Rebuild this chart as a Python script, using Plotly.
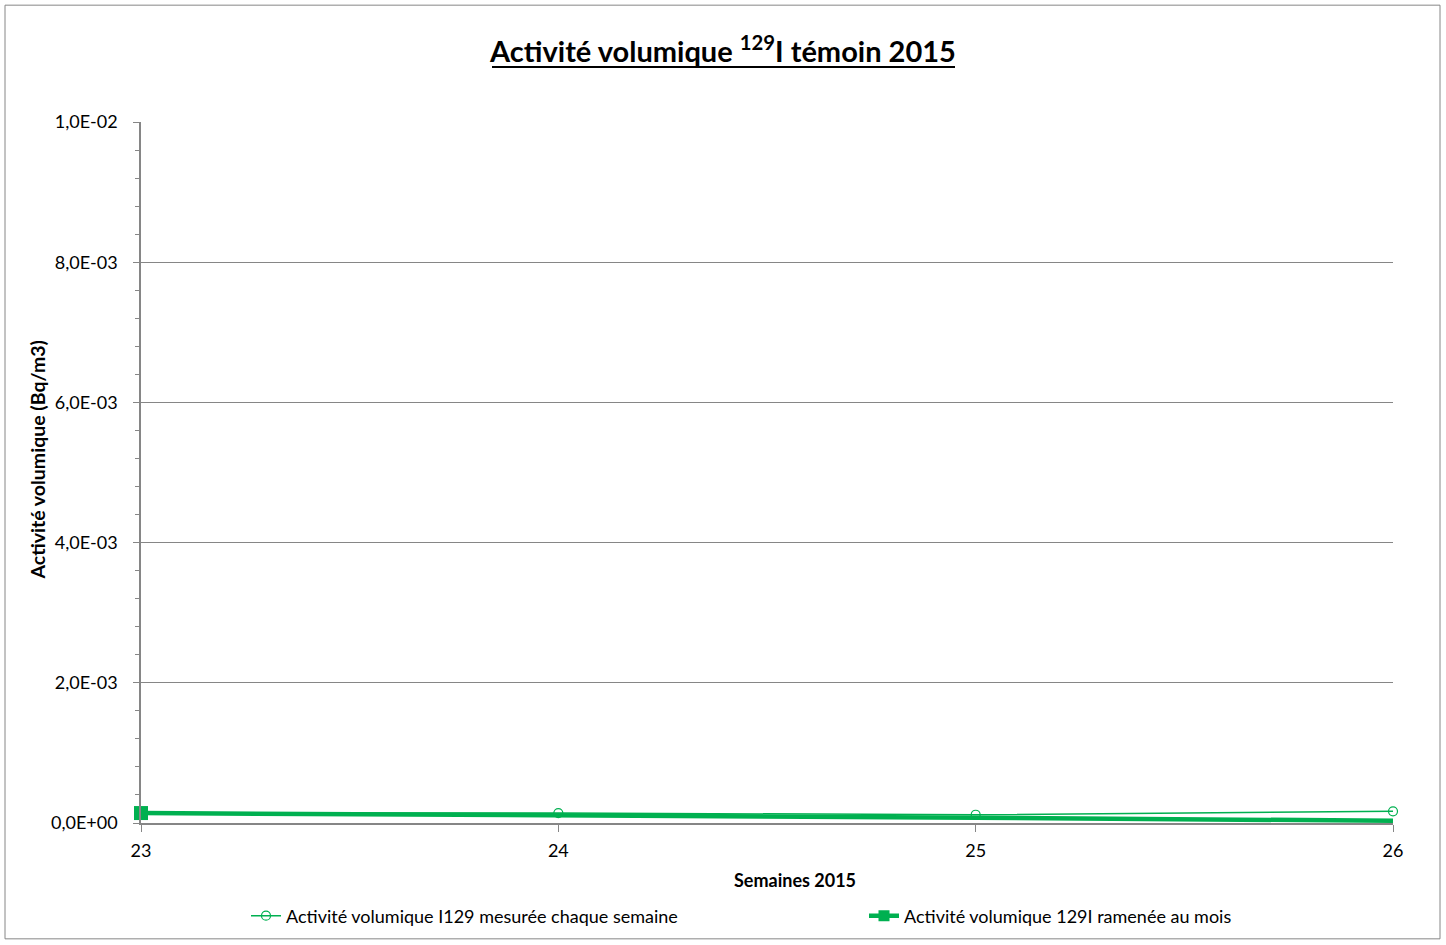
import plotly.graph_objects as go

weeks = [23, 24, 25, 26]
weekly_values = [1.42e-4, 1.42e-4, 1.18e-4, 1.67e-4]
monthly_values = [1.42e-4, 1.14e-4, 7.5e-5, 3.2e-5]
y_tick_vals = [0, 0.002, 0.004, 0.006, 0.008, 0.01]
y_tick_text = ["0,0E+00", "2,0E-03", "4,0E-03", "6,0E-03", "8,0E-03", "1,0E-02"]
name_weekly = "Activité volumique I129 mesurée chaque semaine"
name_monthly = "Activité volumique 129I ramenée au mois"

GREEN = "#00B050"
FONT = "Lato"
AX = "#868686"
W, H = 1446, 945
L, R, T, B = 141, 1393, 122, 824
PW, PH = R - L, B - T

fig = go.Figure()
fig.add_trace(go.Scatter(
    x=weeks, y=monthly_values, mode="lines", showlegend=False,
    line=dict(color=GREEN, width=4.5), hoverinfo="skip"))
fig.add_trace(go.Scatter(
    x=weeks, y=weekly_values, mode="lines+markers", name=name_weekly,
    line=dict(color=GREEN, width=1.5), legend="legend", cliponaxis=False,
    marker=dict(symbol="circle-open", size=9, color=GREEN, line=dict(width=1.2))))
fig.add_trace(go.Scatter(
    x=weeks[:1], y=monthly_values[:1], mode="markers", showlegend=False, cliponaxis=False,
    marker=dict(symbol="square", size=14, color=GREEN)))
fig.add_trace(go.Scatter(
    x=[None], y=[None], mode="lines+markers", name=name_monthly, legend="legend2",
    line=dict(color=GREEN, width=4.5),
    marker=dict(symbol="square", size=11, color=GREEN)))

legend_common = dict(orientation="h", xanchor="left", yanchor="middle",
                     font=dict(family=FONT, size=18, color="black"),
                     bgcolor="rgba(0,0,0,0)")

fig.update_layout(
    width=W, height=H,
    margin=dict(l=L, r=W - R, t=T, b=H - B),
    paper_bgcolor="white", plot_bgcolor="white",
    font=dict(family=FONT, size=18, color="black"),
    title=dict(text="<b>Activité volumique <sup>129</sup>I témoin 2015</b>",
               x=0.5, xanchor="center", xref="container", y=1 - 52 / H, yanchor="middle",
               font=dict(family=FONT, size=29, color="black")),
    showlegend=True,
    legend=dict(x=(246 - L) / PW, y=(B - 916) / PH, **legend_common),
    legend2=dict(x=(864 - L) / PW, y=(B - 916) / PH, **legend_common),
    xaxis=dict(range=[23, 26], tickvals=weeks, ticktext=[str(w) for w in weeks],
               showgrid=False, zeroline=False, showline=True, linecolor=AX, linewidth=1.5,
               ticks="outside", ticklen=7, tickcolor=AX, tickwidth=1, ticklabelstandoff=4,
               tickfont=dict(family=FONT, size=18, color="black")),
    yaxis=dict(range=[0, 0.01], tickvals=y_tick_vals, ticktext=y_tick_text,
               showgrid=True, gridcolor=AX, gridwidth=1, zeroline=False,
               showline=True, linecolor=AX, linewidth=1.5,
               ticks="outside", ticklen=6, tickcolor=AX, tickwidth=1, ticklabelstandoff=12,
               minor=dict(dtick=0.0004, ticks="outside", ticklen=4, tickcolor=AX, showgrid=False),
               tickfont=dict(family=FONT, size=18, color="black")),
)

fig.add_annotation(text="<b>Semaines 2015</b>", xref="paper", yref="paper",
                   x=(795 - L) / PW, y=(B - 881) / PH, showarrow=False,
                   xanchor="center", yanchor="middle", font=dict(family=FONT, size=18))
fig.add_annotation(text="<b>Activité volumique (Bq/m3)</b>", xref="paper", yref="paper",
                   x=(38 - L) / PW, y=(B - 460) / PH, showarrow=False, textangle=-90,
                   xanchor="center", yanchor="middle", font=dict(family=FONT, size=19.5))

# title underline
fig.add_shape(type="line", xref="paper", yref="paper",
              x0=(492 - L) / PW, x1=(955 - L) / PW,
              y0=(B - 67) / PH, y1=(B - 67) / PH,
              line=dict(color="black", width=2))

fig.add_shape(type="rect", xref="paper", yref="paper",
              x0=(5 - L) / PW, x1=(1440 - L) / PW,
              y0=(B - 940) / PH, y1=(B - 5) / PH,
              line=dict(color=AX, width=1), fillcolor="rgba(0,0,0,0)", layer="below")

fig.write_html("out.html", config={"displayModeBar": False})
with open("out.html", "r", encoding="utf-8") as f:
    html = f.read()
html = html.replace("<body>", '<body style="margin:0;padding:0;overflow:hidden">', 1)
with open("out.html", "w", encoding="utf-8") as f:
    f.write(html)
